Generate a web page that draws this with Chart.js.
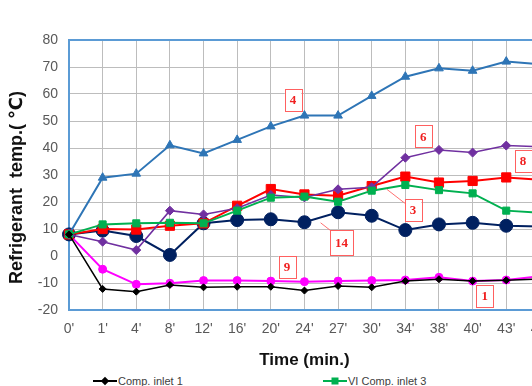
<!DOCTYPE html>
<html><head><meta charset="utf-8">
<script src="https://cdn.jsdelivr.net/npm/chart.js@4/dist/chart.umd.min.js"></script>
<style>
html,body{margin:0;padding:0;background:#fff;overflow:hidden;}
#wrap{position:relative;width:532px;height:386px;overflow:hidden;}
#c{position:absolute;left:0;top:0;}
#legend{position:absolute;left:93px;top:374px;display:grid;grid-template-columns:repeat(3,230px);row-gap:6px;font:11px "Liberation Sans",Arial,sans-serif;color:#404040;white-space:nowrap;}
.item{display:flex;align-items:center;height:14px;}
.icon{position:relative;width:24px;height:14px;margin-right:1px;}
.icon .ln{position:absolute;left:0;right:0;top:6px;height:2px;}
.icon .mk{position:absolute;left:12px;top:7px;}
</style></head>
<body>
<div id="wrap">
<canvas id="c" width="560" height="372"></canvas>
<div id="legend"></div>
</div>
<script>
// ---- data ----
const categories = ["0'","1'","4'","8'","12'","16'","20'","24'","27'","30'","34'","38'","40'","43'","47'"];
const seriesNames = ["Comp. inlet  1","VI Comp. inlet  3","Point 4","Point 6","Point 8","Point 9","Point 14"];
const inlet1   = [8,-12.2,-13.2,-10.7,-11.6,-11.4,-11.4,-12.8,-11.1,-11.6,-9.3,-8.6,-9.3,-9.0,-8.5];
const viInlet3 = [8,11.7,12.1,12.3,12.1,16.8,21.6,22.0,20.1,24.2,26.3,24.4,23.2,16.8,16.0];
const point4   = [8,29.0,30.5,41.0,38.0,43.0,48.0,52.0,52.0,59.3,66.4,69.5,68.6,72.0,71.0];
const point6   = [8,5.3,2.2,16.8,15.4,17.7,22.6,21.7,24.7,25.5,36.4,39.3,38.3,40.9,40.5];
const point8   = [8,10.0,9.8,11.2,12.1,18.6,24.8,22.8,22.3,25.9,29.4,27.2,27.8,29.1,28.2];
const point9   = [8,-4.9,-10.5,-10.1,-9.1,-9.1,-9.3,-9.5,-9.3,-9.1,-8.9,-7.9,-9.3,-8.9,-7.5];
const point14  = [8,9.4,7.4,0.4,12.1,13.3,13.6,12.5,16.2,14.9,9.6,11.7,12.3,11.2,10.9];
const yTicks = {min:-20, max:80, step:10};

// callout labels (category index, value)
const noteText = ['4','6','8','3','14','9','1'];
const noteX    = [6.66,10.53,13.5,10.23,8.1,6.48,12.36];
const noteY    = [57.9,44.3,35.2,17.0,5.0,-4.0,-14.7];
// leader lines: [x1,y1,x2,y2]
const leaders = [[9.45,24.7,9.99,19.5],[7.48,12.3,7.82,9.0]];

const styles = [
  {c:'#000000', s:'rectRot', r:3.5, w:1.5},
  {c:'#00b050', s:'rect', r:5, w:2},
  {c:'#2e75b6', s:'triangle', r:5, w:2},
  {c:'#7030a0', s:'rectRot', r:4.5, w:1.5},
  {c:'#ff0000', s:'rect', r:6.5, w:2},
  {c:'#ff00ff', s:'circle', r:4, w:2},
  {c:'#002060', s:'circle', r:6.5, w:2}
];
const values = [inlet1, viInlet3, point4, point6, point8, point9, point14];

const datasets = values.map((v,i)=>({
  label: seriesNames[i], data: v,
  borderColor: styles[i].c, backgroundColor: styles[i].c,
  borderWidth: styles[i].w, pointStyle: styles[i].s, pointRadius: styles[i].r,
  pointBorderWidth: 1, pointBorderColor: styles[i].c, pointBackgroundColor: styles[i].c,
  tension: 0, fill: false
}));

const borderPlugin = {
  id:'plotBorder',
  beforeDatasetsDraw(chart){
    const a = chart.chartArea, ctx = chart.ctx;
    ctx.save(); ctx.strokeStyle = '#5b9bd5'; ctx.lineWidth = 2;
    ctx.strokeRect(a.left, a.top, a.right - a.left, a.bottom - a.top);
    ctx.restore();
  }
};
const notesPlugin = {
  id:'notes',
  afterDatasetsDraw(chart){
    const ctx = chart.ctx, x = chart.scales.x, y = chart.scales.y;
    ctx.save();
    ctx.strokeStyle = '#ff7070'; ctx.lineWidth = 1;
    leaders.forEach(l=>{
      ctx.beginPath();
      ctx.moveTo(x.getPixelForValue(l[0]), y.getPixelForValue(l[1]));
      ctx.lineTo(x.getPixelForValue(l[2]), y.getPixelForValue(l[3]));
      ctx.stroke();
    });
    ctx.font = 'bold 13px "Liberation Serif", serif';
    ctx.textAlign = 'center'; ctx.textBaseline = 'middle';
    noteText.forEach((t,i)=>{
      const px = x.getPixelForValue(noteX[i]), py = y.getPixelForValue(noteY[i]);
      const w = ctx.measureText(t).width + 10, h = t.length > 1 ? 25 : 22;
      ctx.fillStyle = '#ffffff';
      ctx.fillRect(px - w/2, py - h/2, w, h);
      ctx.strokeStyle = '#ff6060';
      ctx.strokeRect(Math.round(px - w/2)+0.5, Math.round(py - h/2)+0.5, Math.round(w), h);
      ctx.fillStyle = '#f02020';
      ctx.fillText(t, px, py + 1);
    });
    ctx.restore();
  }
};

const tickFont = {family:'"Liberation Sans", Arial, sans-serif', size:14};
const xTitleFont = {family:'"Liberation Sans", "DejaVu Sans", sans-serif', size:17, weight:'bold'};
const yTitleFont = {family:'"Liberation Sans", "DejaVu Sans", sans-serif', size:18, weight:'bold'};

new Chart(document.getElementById('c'), {
  type:'line',
  data:{labels:categories, datasets:datasets},
  options:{
    responsive:false, animation:false,
    layout:{padding:{left:0,right:18,top:40,bottom:0}},
    plugins:{legend:{display:false}, tooltip:{enabled:false}},
    scales:{
      x:{
        offset:false,
        grid:{color:'#bdbdbd', drawTicks:false, lineWidth:1},
        border:{display:false},
        ticks:{autoSkip:false, maxRotation:0, padding:11, color:'#595959', font:tickFont},
        title:{display:true, text:'Time (min.)', color:'#111111', font:xTitleFont, padding:{top:0,bottom:1}},
        afterFit(s){ s.height = 62; }
      },
      y:{
        min:yTicks.min, max:yTicks.max,
        grid:{color:'#bdbdbd', drawTicks:false, lineWidth:1},
        border:{display:false},
        ticks:{stepSize:yTicks.step, padding:11, color:'#595959', font:tickFont},
        title:{display:true, text:'Refrigerant  temp.( \u2103)     ', color:'#111111', font:yTitleFont, padding:{top:6,bottom:0}},
        afterFit(s){ s.width = 69; }
      }
    }
  },
  plugins:[borderPlugin, notesPlugin]
});

// HTML legend built from datasets
const lg = document.getElementById('legend');
datasets.forEach((d,i)=>{
  const it = document.createElement('div'); it.className='item';
  const ic = document.createElement('span'); ic.className='icon';
  const ln = document.createElement('span'); ln.className='ln'; ln.style.background = d.borderColor;
  const mk = document.createElement('span'); mk.className='mk';
  const st = styles[i].s;
  if (st==='rectRot'){ mk.style.cssText += 'width:6px;height:6px;background:'+d.borderColor+';transform:translate(-50%,-50%) rotate(45deg);'; }
  else if (st==='rect'){ mk.style.cssText += 'width:7px;height:7px;background:'+d.borderColor+';transform:translate(-50%,-50%);'; }
  else if (st==='circle'){ mk.style.cssText += 'width:7px;height:7px;border-radius:50%;background:'+d.borderColor+';transform:translate(-50%,-50%);'; }
  else { mk.style.cssText += 'width:0;height:0;border-left:4px solid transparent;border-right:4px solid transparent;border-bottom:7px solid '+d.borderColor+';transform:translate(-50%,-50%);'; }
  ic.appendChild(ln); ic.appendChild(mk);
  const tx = document.createElement('span'); tx.textContent = d.label;
  it.appendChild(ic); it.appendChild(tx); lg.appendChild(it);
});
</script>
</body></html>
